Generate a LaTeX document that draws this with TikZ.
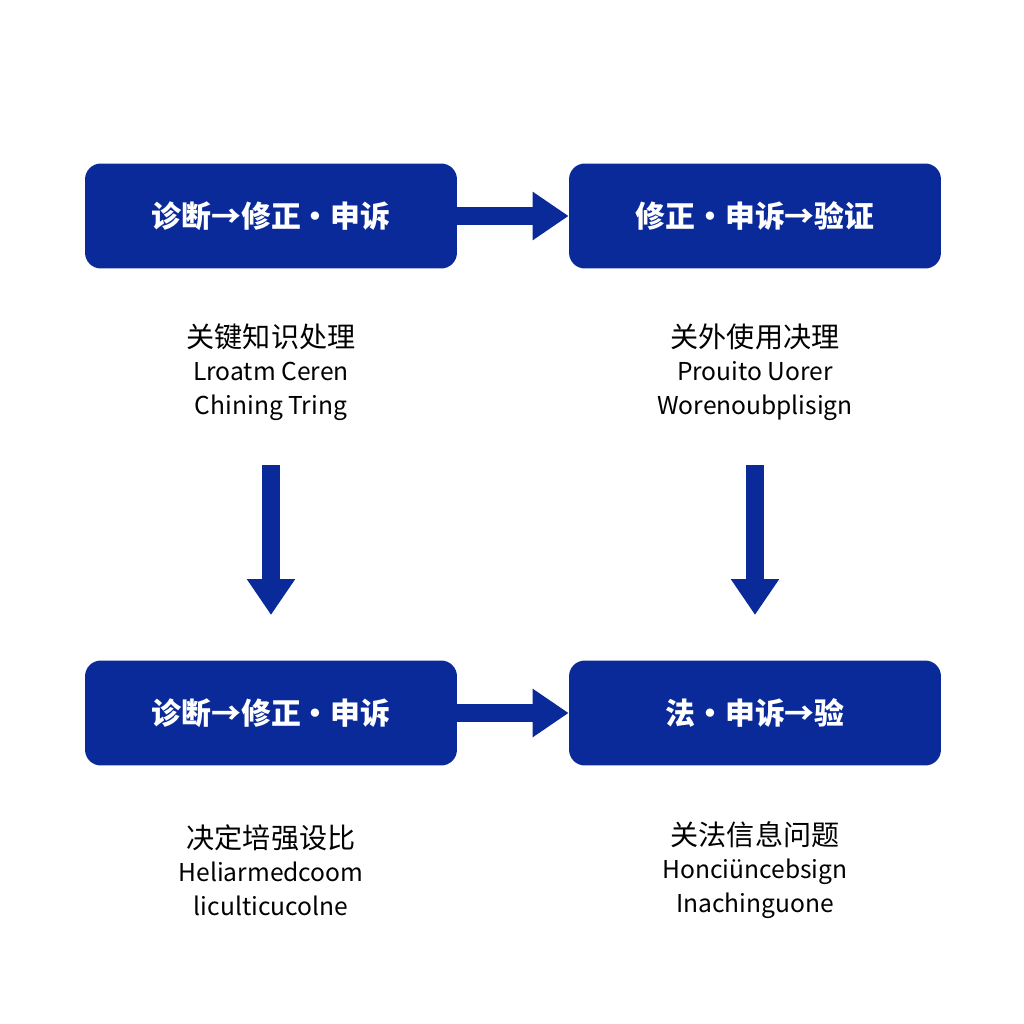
\documentclass[tikz,border=0pt]{standalone}
\usepackage{fontspec}
\setmainfont{Noto Sans CJK SC}
\usetikzlibrary{arrows.meta,positioning}
\definecolor{boxblue}{HTML}{0A2A9A}
\tikzset{
  stage/.style={fill=boxblue, rounded corners=9pt, minimum width=7.44cm, minimum height=2.1cm, text=white, font=\fontsize{17}{20}\selectfont\bfseries},
  note/.style={align=center, font=\fontsize{14}{19}\selectfont},
  flow/.style={boxblue, line width=0.36cm, -{Triangle[length=0.72cm, width=0.92cm]}}
}
\begin{document}
\begin{tikzpicture}[x=0.02cm, y=-0.02cm]
  \useasboundingbox (0,0) rectangle (1024,1024);
  \node[stage] (s1) at (271,216) {诊断→修正·申诉};
  \node[stage] (s2) at (755,216) {修正·申诉→验证};
  \node[stage] (s3) at (271,713) {诊断→修正·申诉};
  \node[stage] (s4) at (755,713) {法·申诉→验};

  \node[note] (n1) at (271,372) {{\fontsize{16}{19}\selectfont 关键知识处理}\\Lroatm Ceren\\Chining Tring};
  \node[note] (n2) at (755,372) {{\fontsize{16}{19}\selectfont 关外使用决理}\\Prouito Uorer\\Worenoubplisign};
  \node[note] (n3) at (271,870) {{\fontsize{16}{19}\selectfont 决定培强设比}\\Heliarmedcoom\\liculticucolne};
  \node[note] (n4) at (755,870) {{\fontsize{16}{19}\selectfont 关法信息问题}\\Honciüncebsign\\Inachinguone};

  \coordinate (v1a) at (271,465);
  \coordinate (v1b) at (271,615);
  \coordinate (v2a) at (755,465);
  \coordinate (v2b) at (755,615);

  \draw[flow] (s1.east) -- (s2.west);
  \draw[flow] (s3.east) -- (s4.west);
  \draw[flow] (v1a) -- (v1b);
  \draw[flow] (v2a) -- (v2b);
\end{tikzpicture}
\end{document}
